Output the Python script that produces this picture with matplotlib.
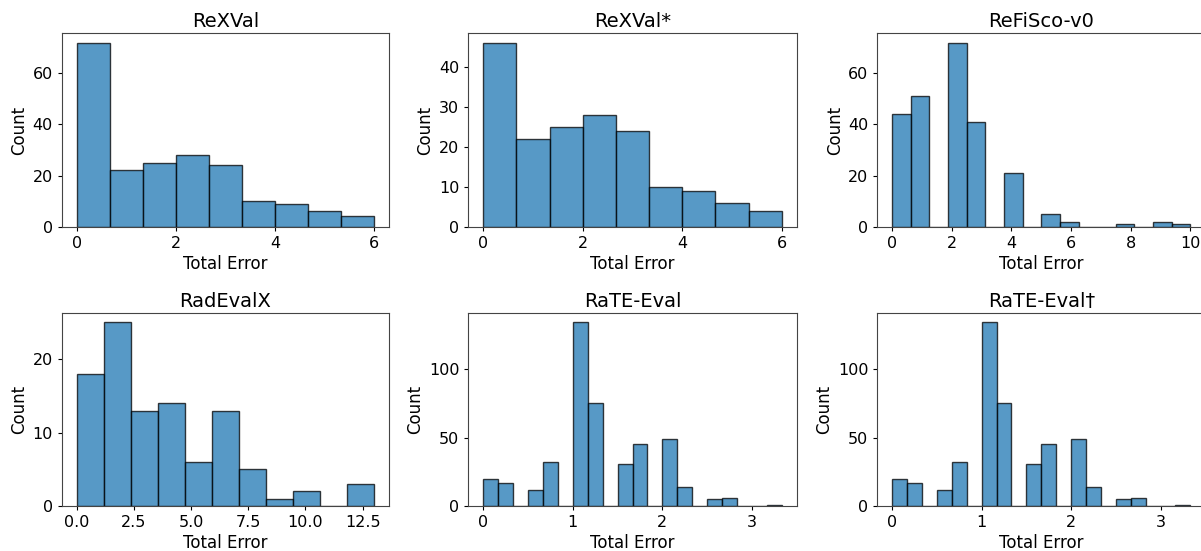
import numpy as np
import matplotlib
matplotlib.use("Agg")
import matplotlib.pyplot as plt
from matplotlib.ticker import MultipleLocator

# panel titles
titles = ["ReXVal", "ReXVal*", "ReFiSco-v0", "RadEvalX", "RaTE-Eval", "RaTE-Eval\u2020"]

# bin ranges (lo, hi, number of bins)
bin_specs = [(0, 6, 9), (0, 6, 9), (0, 10, 16), (0, 13, 11), (0, 10 / 3, 20), (0, 10 / 3, 20)]

# counts per bin
rexval_counts = [72, 22, 25, 28, 24, 10, 9, 6, 4]
rexval_star_counts = [46, 22, 25, 28, 24, 10, 9, 6, 4]
refisco_counts = [44, 51, 0, 72, 41, 0, 21, 0, 5, 2, 0, 0, 1, 0, 2, 1]
radevalx_counts = [18, 25, 13, 14, 6, 13, 5, 1, 2, 0, 3]
rate_counts = [20, 17, 0, 12, 32, 0, 134, 75, 0, 31, 45, 0, 49, 14, 0, 5, 6, 0, 0, 1]
rate_dag_counts = [20, 17, 0, 12, 32, 0, 134, 75, 0, 31, 45, 0, 49, 14, 0, 5, 6, 0, 0, 1]

all_counts = [rexval_counts, rexval_star_counts, refisco_counts,
              radevalx_counts, rate_counts, rate_dag_counts]

# y tick spacing per panel
y_steps = [20, 10, 20, 10, 50, 50]

W, H = 1201, 551
fig = plt.figure(figsize=(W / 100, H / 100), dpi=100)

# axes boxes in pixels: left, width / (top, bottom)
lefts = [61.7, 468.3, 877.3]
widths = [327.3, 328.4, 328.0]
rows = [(33.3, 226.7), (313.3, 506.0)]

for i, (title, counts, spec) in enumerate(zip(titles, all_counts, bin_specs)):
    r, c = divmod(i, 3)
    top, bot = rows[r]
    ax = fig.add_axes([lefts[c] / W, 1 - bot / H, widths[c] / W, (bot - top) / H])
    lo, hi, n = spec
    edges = np.linspace(lo, hi, n + 1)
    centers = (edges[:-1] + edges[1:]) / 2
    ax.hist(centers, bins=edges, weights=counts, color="#1f77b4", alpha=0.75,
            edgecolor="black", linewidth=1)
    ax.yaxis.set_major_locator(MultipleLocator(y_steps[i]))
    ax.set_title(title, fontsize=14, pad=4.8)
    ax.set_xlabel("Total Error", fontsize=12, labelpad=3)
    ax.set_ylabel("Count", fontsize=12, labelpad=3.2)
    ax.tick_params(labelsize=11.5, length=3.2, pad=3.2)
    for s in ax.spines.values():
        s.set_color("#444444")

fig.savefig("out.png", dpi=100)
